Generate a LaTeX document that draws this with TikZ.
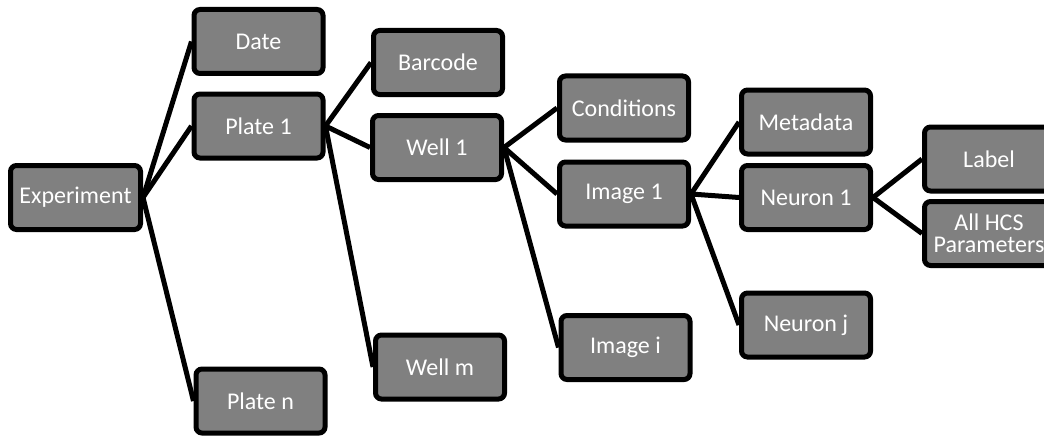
\documentclass[tikz,border=0pt]{standalone}
\usepackage{fontspec}
\setmainfont{Carlito}
\usetikzlibrary{backgrounds}
\definecolor{boxgray}{RGB}{128,128,128}
\begin{document}
\begin{tikzpicture}[x=1pt,y=-1pt,
  box/.style={draw=black, line width=5pt, rounded corners=6pt, fill=boxgray,
    text=white, minimum width=129pt, minimum height=64pt, inner sep=0pt,
    align=center, font=\fontsize{24}{26}\selectfont},
  link/.style={draw=black, line width=5pt}]
\useasboundingbox (0,0) rectangle (1044,436);
\clip (0,0) rectangle (1044,436);
\coordinate (pExp) at (75.5,197.5);
\coordinate (pDate) at (258.5,41.5);
\coordinate (pPlate1) at (258.5,126);
\coordinate (pPlaten) at (260.5,401);
\coordinate (pBarcode) at (438,62.5);
\coordinate (pWell1) at (437,147.5);
\coordinate (pWellm) at (440,367);
\coordinate (pCond) at (624,108);
\coordinate (pImage1) at (624,194);
\coordinate (pImagei) at (625.5,347.5);
\coordinate (pMeta) at (806,122);
\coordinate (pNeuron1) at (806,197.5);
\coordinate (pNeuronj) at (806,325);
\coordinate (pLabel) at (989,159);
\coordinate (pHCS) at (989,233.5);

\node[box, minimum width=130pt] (exp) at (pExp) {Experiment};
\node[box] (date) at (pDate) {Date};
\node[box] (plate1) at (pPlate1) {Plate 1};
\node[box] (platen) at (pPlaten) {Plate n};
\node[box] (barcode) at (pBarcode) {Barcode};
\node[box] (well1) at (pWell1) {Well 1};
\node[box] (wellm) at (pWellm) {Well m};
\node[box] (cond) at (pCond) {Conditions};
\node[box] (image1) at (pImage1) {Image 1};
\node[box] (imagei) at (pImagei) {Image i};
\node[box] (meta) at (pMeta) {Metadata};
\node[box] (neuron1) at (pNeuron1) {Neuron 1};
\node[box] (neuronj) at (pNeuronj) {Neuron j};
\node[box] (label) at (pLabel) {Label};
\node[box, font=\fontsize{24}{22}\selectfont] (hcs) at (pHCS) {All HCS\\Parameters};

\begin{scope}[on background layer]
\draw[link] (exp.east) -- (date.west);
\draw[link] (exp.east) -- (plate1.west);
\draw[link] (exp.east) -- (platen.west);
\draw[link] (plate1.east) -- (barcode.west);
\draw[link] (plate1.east) -- (well1.west);
\draw[link] (plate1.east) -- (wellm.west);
\draw[link] (well1.east) -- (cond.west);
\draw[link] (well1.east) -- (image1.west);
\draw[link] (well1.east) -- (imagei.west);
\draw[link] (image1.east) -- (meta.west);
\draw[link] (image1.east) -- (neuron1.west);
\draw[link] (image1.east) -- (neuronj.west);
\draw[link] (neuron1.east) -- (label.west);
\draw[link] (neuron1.east) -- (hcs.west);
\end{scope}
\end{tikzpicture}
\end{document}
